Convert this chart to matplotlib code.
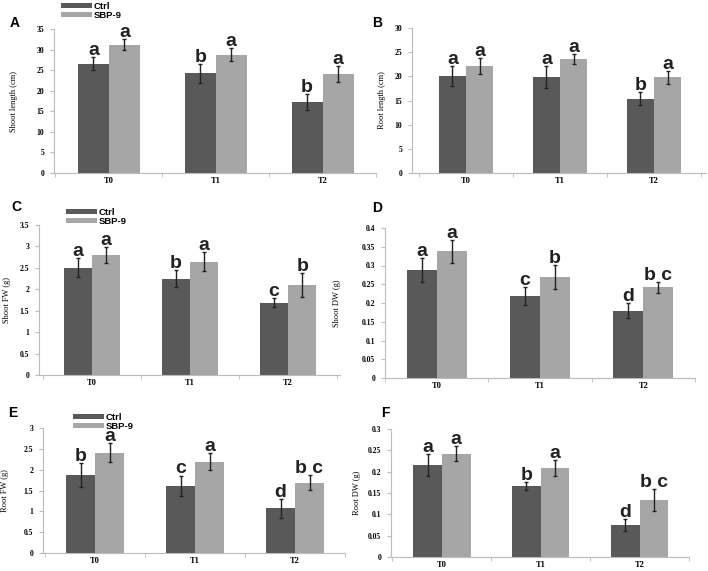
import matplotlib
matplotlib.use("Agg")
import matplotlib.pyplot as plt
import numpy as np

groups = ["T0", "T1", "T2"]
series = ["Ctrl", "SBP-9"]
colors = ["#595959", "#a6a6a6"]

# panel A: shoot length
a_ctrl = [26.6, 24.2, 17.3]
a_ctrl_err = [1.5, 2.3, 2.0]
a_sbp = [31.2, 28.8, 24.1]
a_sbp_err = [1.3, 1.5, 1.9]
a_letters = [["a", "b", "b"], ["a", "a", "a"]]

# panel B: root length
b_ctrl = [20.1, 19.9, 15.4]
b_ctrl_err = [2.0, 2.3, 1.3]
b_sbp = [22.1, 23.6, 19.8]
b_sbp_err = [1.65, 1.0, 1.35]
b_letters = [["a", "a", "b"], ["a", "a", "a"]]

# panel C: shoot FW
c_ctrl = [2.5, 2.25, 1.69]
c_ctrl_err = [0.22, 0.2, 0.1]
c_sbp = [2.8, 2.64, 2.1]
c_sbp_err = [0.18, 0.22, 0.27]
c_letters = [["a", "b", "c"], ["a", "a", "b"]]

# panel D: shoot DW
d_ctrl = [0.289, 0.219, 0.18]
d_ctrl_err = [0.032, 0.023, 0.02]
d_sbp = [0.338, 0.269, 0.242]
d_sbp_err = [0.03, 0.032, 0.015]
d_letters = [["a", "c", "d"], ["a", "b", "b c"]]

# panel E: root FW
e_ctrl = [1.87, 1.61, 1.07]
e_ctrl_err = [0.28, 0.25, 0.23]
e_sbp = [2.41, 2.19, 1.69]
e_sbp_err = [0.22, 0.2, 0.18]
e_letters = [["b", "c", "d"], ["a", "a", "b c"]]

# panel F: root DW
f_ctrl = [0.216, 0.166, 0.075]
f_ctrl_err = [0.025, 0.01, 0.013]
f_sbp = [0.242, 0.209, 0.134]
f_sbp_err = [0.017, 0.019, 0.026]
f_letters = [["a", "b", "d"], ["a", "a", "b c"]]

W, H = 708, 571
fig = plt.figure(figsize=(W / 100, H / 100), dpi=100)

SERIF = "Liberation Serif"
SANS = "Liberation Sans"


def panel(box, c0, step, ymax, ystep, ctrl, ctrl_err, sbp, sbp_err, letters,
          ylabel, ylab_x, tag, tag_xy, legend_xy=None):
    L, R, T, B = box
    ax = fig.add_axes([L / W, 1 - B / H, (R - L) / W, (B - T) / H])
    x = np.arange(len(groups))
    w = 0.29
    bars = []
    for k, (vals, errs) in enumerate([(ctrl, ctrl_err), (sbp, sbp_err)]):
        xs = x + (k - 0.5) * w
        b = ax.bar(xs, vals, w, color=colors[k], label=series[k], zorder=2)
        ax.errorbar(xs, vals, yerr=errs, fmt="none", ecolor="#222222",
                    elinewidth=1, capsize=1.5, capthick=1, zorder=3)
        for xi, v, e, t in zip(xs, vals, errs, letters[k]):
            ax.annotate(t, (xi, v + e), xytext=(0, 1.5), textcoords="offset points",
                        ha="center", va="baseline", fontsize=14,
                        fontweight="bold", family=SANS, color="#222222")
        bars.append(b)
    ax.set_xlim((L - c0) / step, (R - c0) / step)
    ax.set_ylim(0, ymax)
    ticks = np.arange(0, ymax + ystep / 2, ystep)
    ax.set_yticks(ticks)
    ax.set_yticklabels([f"{round(v, 3):g}" for v in ticks],
                       family=SERIF, fontweight="bold", fontsize=5.5)
    ax.set_xticks(x)
    ax.set_xticklabels(groups, family=SERIF, fontweight="bold", fontsize=6)
    ax.set_xticks(np.arange(-0.5, len(groups)), minor=True)
    ax.tick_params(axis="x", which="major", length=0, pad=3)
    ax.tick_params(axis="x", which="minor", length=3, color="#bbbbbb")
    ax.tick_params(axis="y", length=3, color="#bbbbbb", pad=4)
    for s in ["top", "right"]:
        ax.spines[s].set_visible(False)
    for s in ["left", "bottom"]:
        ax.spines[s].set_color("#bbbbbb")
    ax.set_ylabel(ylabel, family=SERIF, fontsize=6)
    ax.yaxis.set_label_coords((ylab_x - L) / (R - L), 0.5)
    fig.text(tag_xy[0] / W, 1 - tag_xy[1] / H, tag, fontsize=10,
             fontweight="bold", family=SANS, ha="center", va="center")
    if legend_xy is not None:
        ax.legend(handles=bars, loc="upper left",
                  bbox_to_anchor=(legend_xy[0] / W, 1 - legend_xy[1] / H),
                  bbox_transform=fig.transFigure, frameon=False,
                  prop={"family": SANS, "weight": "bold", "size": 6.8},
                  handlelength=3.3, handleheight=0.5, labelspacing=0,
                  handletextpad=0.15, borderpad=0, borderaxespad=0)
    return ax


panel((54, 376, 29, 173), 109, 107, 35, 5, a_ctrl, a_ctrl_err, a_sbp, a_sbp_err,
      a_letters, "Shoot length (cm)", 18, "A", (15, 23), legend_xy=(61, 2))
panel((412, 706, 28, 173), 466, 94, 30, 5, b_ctrl, b_ctrl_err, b_sbp, b_sbp_err,
      b_letters, "Root length (cm)", 386, "B", (377, 23))
panel((39, 340, 225, 375), 92, 98, 3.5, 0.5, c_ctrl, c_ctrl_err, c_sbp, c_sbp_err,
      c_letters, "Shoot FW (g)", 11, "C", (16, 207), legend_xy=(66, 208))
panel((385, 695, 228, 378), 439, 109, 0.4, 0.05, d_ctrl, d_ctrl_err, d_sbp, d_sbp_err,
      d_letters, "Shoot DW (g)", 341, "D", (377, 208))
panel((43, 345, 428, 553), 95, 100, 3, 0.5, e_ctrl, e_ctrl_err, e_sbp, e_sbp_err,
      e_letters, "Root FW (g)", 9, "E", (13, 413), legend_xy=(73, 413))
panel((391, 689, 429, 557), 442, 99, 0.3, 0.05, f_ctrl, f_ctrl_err, f_sbp, f_sbp_err,
      f_letters, "Root DW (g)", 361, "F", (385, 413))

fig.savefig("out.png", dpi=100)
